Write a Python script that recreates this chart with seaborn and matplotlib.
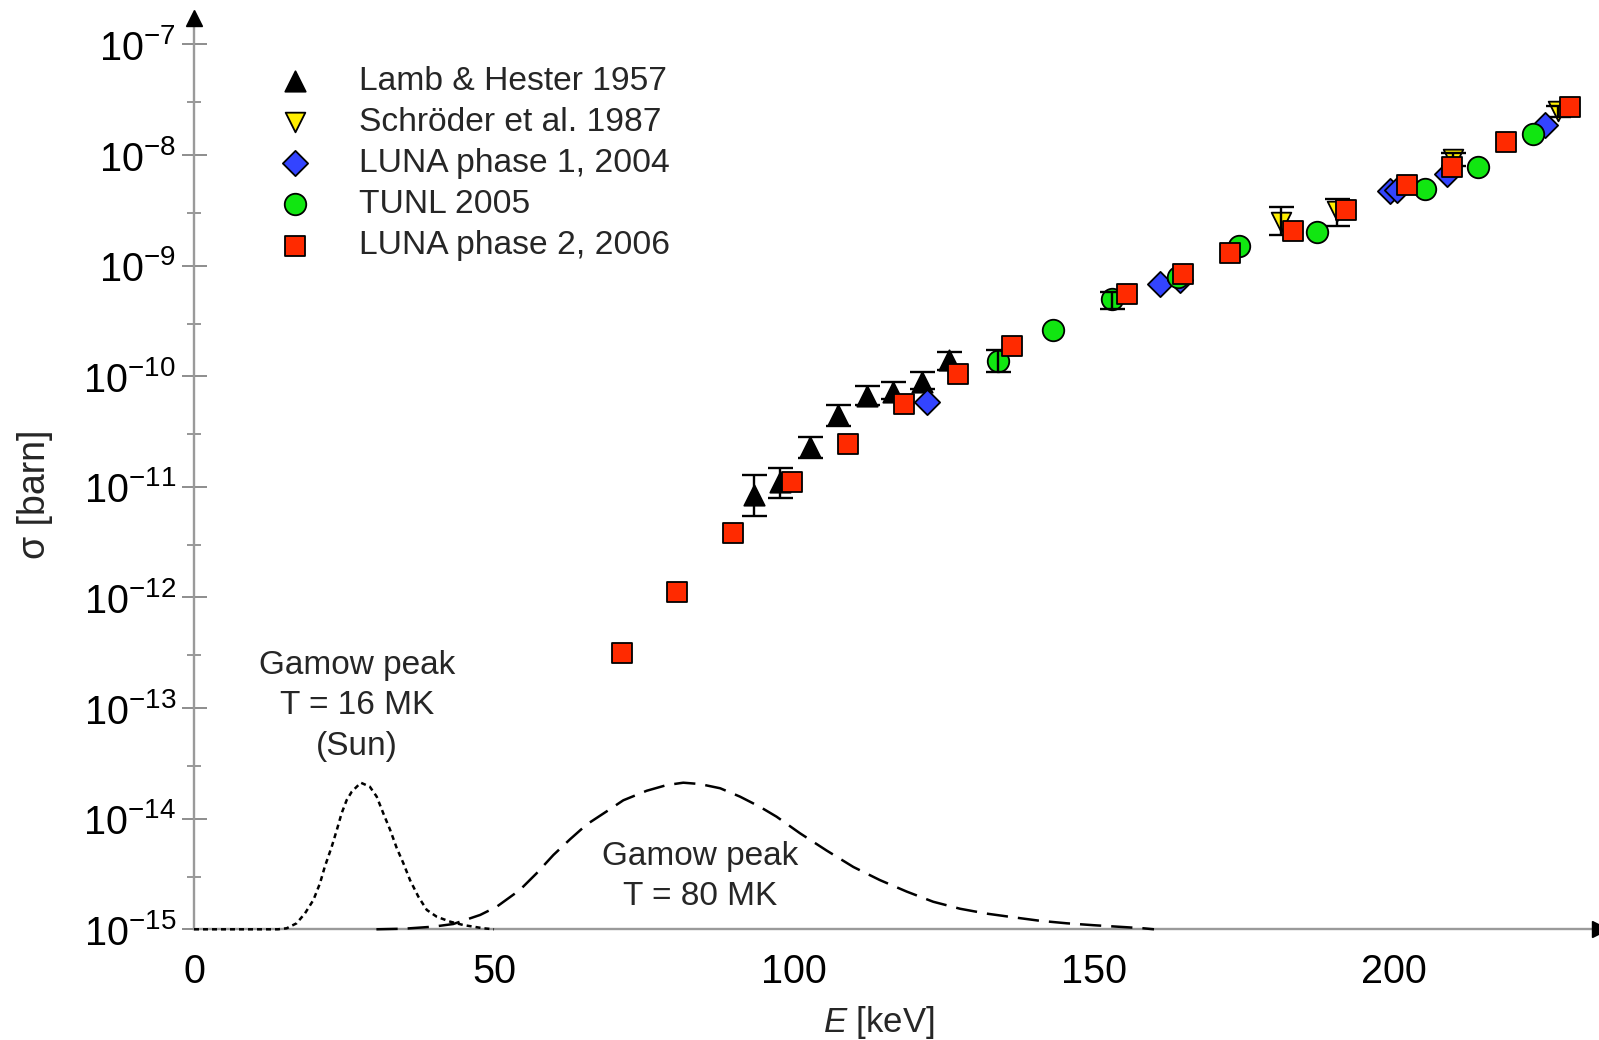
import numpy as np
import matplotlib
matplotlib.use("Agg")
import matplotlib.pyplot as plt
from matplotlib.ticker import LogLocator, NullFormatter, FuncFormatter, MultipleLocator, FixedLocator
import seaborn as sns

# ---------------- data ----------------
lamb_E = [93.3, 97.7, 102.7, 107.3, 112.2, 116.5, 121.3, 125.8]
lamb_sigma = [8.5e-12, 1.10e-11, 2.29e-11, 4.47e-11, 6.6e-11, 7.24e-11, 8.9e-11, 1.41e-10]
lamb_lo = [5.5e-12, 7.9e-12, 1.82e-11, 3.55e-11, 5.5e-11, 6.2e-11, 7.6e-11, 1.15e-10]
lamb_hi = [1.29e-11, 1.48e-11, 2.85e-11, 5.5e-11, 8.1e-11, 8.9e-11, 1.10e-10, 1.66e-10]

schroeder_E = [181.2, 190.5, 209.9, 227.3]
schroeder_sigma = [2.5e-9, 3.1e-9, 9.3e-9, 2.5e-8]
schroeder_lo = [1.9e-9, 2.3e-9, 8.0e-9, 2.2e-8]
schroeder_hi = [3.4e-9, 4.0e-9, 1.05e-8, 2.8e-8]

luna1_E = [122.2, 161.0, 164.3, 199.3, 200.5, 208.8, 225.2]
luna1_sigma = [5.9e-11, 6.8e-10, 7.4e-10, 4.7e-9, 4.8e-9, 6.8e-9, 1.86e-8]

tunl_E = [134.0, 143.2, 153.0, 164.0, 174.2, 187.2, 205.2, 214.0, 223.2]
tunl_sigma = [1.38e-10, 2.63e-10, 5.0e-10, 7.9e-10, 1.51e-9, 2.0e-9, 4.9e-9, 7.8e-9, 1.55e-8]
tunl_err_E = [134.0, 153.0]
tunl_err_sigma = [1.38e-10, 5.0e-10]
tunl_err_lo = [1.10e-10, 4.1e-10]
tunl_err_hi = [1.74e-10, 5.8e-10]

luna2_E = [71.3, 80.5, 89.8, 99.7, 109.0, 118.3, 127.3, 136.3, 155.5, 164.8,
           172.7, 183.2, 192.0, 202.2, 209.7, 218.7, 229.3]
luna2_sigma = [3.16e-13, 1.12e-12, 3.8e-12, 1.10e-11, 2.45e-11, 5.6e-11, 1.05e-10,
               1.86e-10, 5.5e-10, 8.5e-10, 1.29e-9, 2.04e-9, 3.16e-9, 5.4e-9,
               7.8e-9, 1.32e-8, 2.7e-8]

# Gamow peaks, relative height (peak = 1)
gamow16_E = [0, 14.0, 15.45, 17.1, 18.5, 19.9, 21.0, 21.8, 22.95, 23.8, 24.6, 25.45,
             26.3, 27.8, 29.3, 30.45, 31.55, 32.7, 33.8, 34.9, 36.0, 37.4, 38.8,
             40.45, 42.7, 44.9, 48.2, 50.0]
gamow16_rel = [0, 0, 0.007, 0.041, 0.109, 0.2, 0.314, 0.427, 0.563, 0.677, 0.791,
               0.882, 0.939, 1.0, 0.973, 0.905, 0.791, 0.677, 0.553, 0.45, 0.336,
               0.222, 0.132, 0.086, 0.052, 0.029, 0.007, 0]
gamow80_E = [30.4, 35.0, 39.9, 43.2, 47.7, 50.45, 54.3, 57.1, 59.9, 62.7, 65.45, 68.8,
             71.55, 75.45, 78.8, 81.55, 84.3, 87.7, 91.0, 94.3, 97.1, 101.0, 105.45,
             109.9, 114.3, 118.8, 123.2, 127.7, 132.1, 136.55, 141.0, 145.45, 149.9,
             155.45, 158.2, 160.0]
gamow80_rel = [0, 0.004, 0.018, 0.036, 0.098, 0.154, 0.268, 0.382, 0.507, 0.615, 0.715,
               0.805, 0.88, 0.945, 0.984, 1.0, 0.991, 0.962, 0.905, 0.836, 0.768,
               0.655, 0.537, 0.425, 0.336, 0.257, 0.188, 0.140, 0.107, 0.082, 0.058,
               0.041, 0.028, 0.014, 0.007, 0.0]

labels = ["Lamb & Hester 1957", "Schröder et al. 1987", "LUNA phase 1, 2004",
          "TUNL 2005", "LUNA phase 2, 2006"]
x_major_ticks = [0, 50, 100, 150, 200]
y_major_ticks = [1e-15, 1e-14, 1e-13, 1e-12, 1e-11, 1e-10, 1e-9, 1e-8, 1e-7]
y_minor_ticks = [3e-15, 3e-14, 3e-13, 3e-12, 3e-11, 3e-10, 3e-9, 3e-8]

# ---------------- style ----------------
sns.set_style("white")
plt.rcParams["font.family"] = ["Liberation Sans", "DejaVu Sans"]
plt.rcParams["mathtext.fontset"] = "custom"
plt.rcParams["mathtext.rm"] = "Liberation Sans"
plt.rcParams["mathtext.it"] = "Liberation Sans:italic"
plt.rcParams["mathtext.bf"] = "Liberation Sans:bold"

W, H = 1599, 1040
fig = plt.figure(figsize=(W / 100, H / 100), dpi=100)
x0_px, base_px, top_px = 194, 929.3, 18
ax = fig.add_axes([x0_px / W, (H - base_px) / H, (1600 - x0_px) / W, (base_px - top_px) / H])

ax.set_yscale("log")
ax.set_xlim(0, (1600 - x0_px) / 6.0)
ax.set_ylim(1e-15, 10 ** (-15 + (base_px - top_px) / 110.6))

edge = dict(edgecolor="black", linewidth=1.3)
eb = dict(fmt="none", ecolor="black", elinewidth=1.7, capsize=9, capthick=1.7)

sns.scatterplot(x=lamb_E, y=lamb_sigma, marker="^", s=215, color="black",
                label=labels[0], ax=ax, zorder=3, **edge)
ax.errorbar(lamb_E, lamb_sigma,
            yerr=[np.array(lamb_sigma) - np.array(lamb_lo), np.array(lamb_hi) - np.array(lamb_sigma)],
            zorder=3.1, **eb)
sns.scatterplot(x=schroeder_E, y=schroeder_sigma, marker="v", s=200, color="#ffee00",
                label=labels[1], ax=ax, zorder=3.2, **edge)
ax.errorbar(schroeder_E, schroeder_sigma,
            yerr=[np.array(schroeder_sigma) - np.array(schroeder_lo), np.array(schroeder_hi) - np.array(schroeder_sigma)],
            zorder=3.3, **eb)
sns.scatterplot(x=luna1_E, y=luna1_sigma, marker="D", s=165, color="#3344ff",
                label=labels[2], ax=ax, zorder=3.4, **edge)
sns.scatterplot(x=tunl_E, y=tunl_sigma, marker="o", s=240, color="#11e611",
                label=labels[3], ax=ax, zorder=3.5, **edge)
ax.errorbar(tunl_err_E, tunl_err_sigma,
            yerr=[np.array(tunl_err_sigma) - np.array(tunl_err_lo), np.array(tunl_err_hi) - np.array(tunl_err_sigma)],
            zorder=3.6, **eb)
sns.scatterplot(x=luna2_E, y=luna2_sigma, marker="s", s=190, color="#ff2a00",
                label=labels[4], ax=ax, zorder=3.7, **edge)

# Gamow peaks on a linear twin axis
ax2 = ax.twinx()
sns.lineplot(x=gamow16_E, y=gamow16_rel, ax=ax2, color="black", linewidth=1.8,
             linestyle=(0, (2.0, 1.6)))
sns.lineplot(x=gamow80_E, y=gamow80_rel, ax=ax2, color="black", linewidth=1.8,
             linestyle=(0, (8.5, 4.0)))
ax2.set_ylim(0, (base_px - top_px) / 146.6)
ax2.set_xlabel("")
ax2.set_ylabel("")
ax2.set_axis_off()
for ln in ax2.get_lines():
    ln.set_clip_on(False)

# axes styling
for side in ["top", "right"]:
    ax.spines[side].set_visible(False)
for side in ["left", "bottom"]:
    ax.spines[side].set_color("#9a9a9a")
    ax.spines[side].set_linewidth(1.7)
ax.set_zorder(1)
ax2.set_zorder(2)

ax.xaxis.set_major_locator(FixedLocator(x_major_ticks))
ax.xaxis.set_minor_locator(MultipleLocator(10))
ax.yaxis.set_major_locator(FixedLocator(y_major_ticks))
ax.yaxis.set_minor_locator(FixedLocator(y_minor_ticks))
ax.yaxis.set_minor_formatter(NullFormatter())
ax.yaxis.set_major_formatter(FuncFormatter(lambda v, p: r"$\mathdefault{10^{%d}}$" % int(round(np.log10(v)))))

ax.tick_params(axis="both", which="major", direction="inout", length=18, width=1.2,
               color="#7a7a7a", labelsize=28.5, labelcolor="black")
ax.tick_params(axis="both", which="minor", direction="inout", length=9.5, width=1.1,
               color="#7a7a7a")
ax.tick_params(axis="y", which="major", pad=4)
ax.tick_params(axis="x", which="major", pad=8)

# arrow heads
ax.plot([1], [0], marker=">", markersize=12, color="black", transform=ax.transAxes, clip_on=False, zorder=5)
ax.plot([0], [1], marker="^", markersize=12, color="black", transform=ax.transAxes, clip_on=False, zorder=5)

ax.set_xlabel(r"$\mathit{E}$ [keV]", fontsize=25)
ax.xaxis.set_label_coords((879 - x0_px) / 1406, (base_px - 1004) / (base_px - top_px))
ax.set_ylabel("σ [barn]", fontsize=27)
ax.yaxis.set_label_coords((53 - x0_px) / 1406, (base_px - 494) / (base_px - top_px))

ax.text(27.2, 10 ** -12.98, "Gamow peak\nT = 16 MK\n(Sun)", ha="center", va="center",
        fontsize=24, linespacing=1.39)
ax.text(84.3, 10 ** -14.52, "Gamow peak\nT = 80 MK", ha="center", va="center",
        fontsize=24, linespacing=1.39)

leg = ax.legend(loc="upper left", bbox_to_anchor=(269.5 / W, 1 - 66 / H),
                bbox_transform=fig.transFigure, frameon=False, fontsize=24.2,
                borderpad=0, borderaxespad=0, handlelength=1.5, handletextpad=1.16,
                labelspacing=0.30, scatterpoints=1)
leg.set_zorder(10)

fig.savefig("out.png", dpi=100)
